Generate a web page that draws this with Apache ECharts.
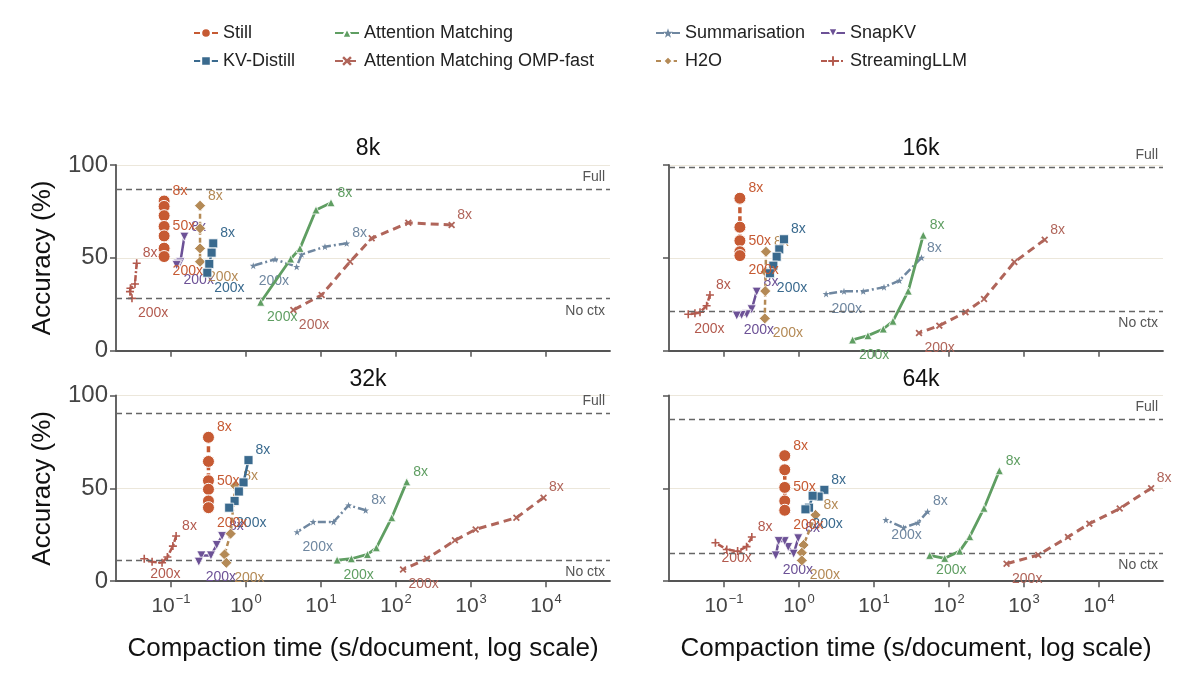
<!DOCTYPE html>
<html>
<head>
<meta charset="utf-8">
<script src="https://cdn.jsdelivr.net/npm/echarts@6/dist/echarts.min.js"></script>
<style>
  html, body { margin: 0; padding: 0; background: #fff; }
  #chart { width: 1200px; height: 674px; }
</style>
</head>
<body>
<div id="chart"></div>
<script>
// panels and reference lines
const panelNames = ['8k', '16k', '32k', '64k']
const fullAcc = [86.9, 98.8, 90.6, 87.4]
const noCtxAcc = [28.0, 21.4, 11.2, 15.3]
const xTickExps = [-1, 0, 1, 2, 3, 4]

// points per panel, ordered 8x -> 200x : [compaction seconds, accuracy %]
const still = [
  [[0.081, 80.6], [0.081, 77.7], [0.081, 72.7], [0.081, 66.9], [0.081, 61.8], [0.081, 55.2], [0.081, 50.7]],
  [[0.163, 82.1], [0.163, 66.5], [0.163, 59.2], [0.163, 53.3], [0.163, 51.2]],
  [[0.316, 77.5], [0.316, 64.5], [0.316, 54.1], [0.316, 49.5], [0.316, 43.2], [0.316, 39.6]],
  [[0.646, 67.6], [0.646, 60.0], [0.646, 50.5], [0.646, 43.2], [0.646, 38.2]]
]
const stillMidIdx = [3, 2, 2, 2] // point carrying the "50x" label

const kvDistill = [
  [[0.366, 57.8], [0.348, 52.8], [0.324, 46.7], [0.305, 42.0]],
  [[0.631, 60.0], [0.546, 54.6], [0.504, 50.6], [0.455, 45.8], [0.41, 41.7]],
  [[1.08, 65.2], [0.927, 53.2], [0.804, 48.3], [0.705, 43.2], [0.597, 39.6]],
  [[2.18, 49.2], [1.83, 45.6], [1.52, 46.0], [1.36, 39.6], [1.22, 38.7]]
]
const attnMatching = [
  [[13.6, 79.7], [8.57, 75.8], [5.25, 55.1], [3.94, 49.4], [1.57, 26.1]],
  [[45.4, 62.2], [28.6, 32.1], [17.9, 15.9], [13.3, 11.7], [8.3, 8.1], [5.18, 5.8]],
  [[139, 53.5], [87.7, 34.2], [54.7, 18.0], [41.6, 14.4], [25.4, 12.1], [16.4, 11.4]],
  [[469, 59.5], [293, 39.3], [189, 24.0], [139, 16.2], [87.7, 12.3], [55.3, 13.9]]
]
const attnOmpFast = [
  [[552, 67.7], [146, 68.9], [47.4, 60.5], [24.4, 47.9], [10.2, 30.0], [4.28, 21.9]],
  [[1888, 59.8], [743, 47.7], [293, 27.9], [166, 20.7], [74.3, 13.5], [39.8, 9.5]],
  [[9268, 45.0], [4027, 34.2], [1153, 27.9], [611, 22.0], [259, 12.1], [124, 6.3]],
  [[49545, 50.1], [18880, 39.1], [7430, 31.0], [3855, 23.8], [1549, 14.1], [585, 9.4]]
]
const summarisation = [
  [[22.0, 57.8], [11.3, 56.0], [5.52, 51.9], [4.74, 45.2], [2.44, 49.2], [1.25, 45.8]],
  [[43.0, 50.1], [21.8, 37.8], [13.6, 34.2], [7.19, 32.0], [3.98, 32.0], [2.3, 30.6]],
  [[39.4, 38.2], [23.3, 40.9], [14.7, 31.9], [7.85, 31.9], [4.8, 26.5]],
  [[51.8, 37.5], [38.5, 31.5], [24.8, 28.8], [14.4, 33.0]]
]
const h2o = [
  [[0.244, 78.1], [0.244, 65.9], [0.244, 55.1], [0.244, 47.9]],
  [[0.363, 53.3], [0.36, 42.5], [0.355, 32.1], [0.35, 17.4]],
  [[0.72, 51.4], [0.624, 25.6], [0.518, 14.4], [0.547, 9.9]],
  [[1.66, 35.7], [1.15, 19.5], [1.09, 15.3], [1.09, 11.2]]
]
const snapKV = [
  [[0.151, 61.4], [0.133, 47.6], [0.124, 46.8], [0.119, 46.1]],
  [[0.273, 31.8], [0.234, 22.3], [0.201, 19.6], [0.172, 19.2], [0.148, 18.9]],
  [[0.48, 24.3], [0.407, 19.5], [0.341, 13.9], [0.254, 13.9], [0.235, 10.5]],
  [[0.977, 23.1], [0.849, 14.8], [0.719, 18.4], [0.646, 21.6], [0.536, 21.6], [0.49, 13.9]]
]
const streamingLLM = [
  [[0.0349, 47.1], [0.0331, 35.9], [0.0288, 33.6], [0.0284, 31.8], [0.0302, 28.2]],
  [[0.065, 30.0], [0.0587, 24.2], [0.0479, 20.7], [0.041, 20.1], [0.0334, 19.6]],
  [[0.117, 24.3], [0.106, 18.9], [0.0895, 13.0], [0.076, 9.9], [0.056, 10.5], [0.044, 12.1]],
  [[0.235, 23.8], [0.2, 18.6], [0.152, 16.2], [0.109, 17.1], [0.0769, 20.7]]
]

const FONT = '"Liberation Sans", Arial, Helvetica, sans-serif'
const xPath = 'path://M1.8,0L5,3.2L8.2,0L10,1.8L6.8,5L10,8.2L8.2,10L5,6.8L1.8,10L0,8.2L3.2,5L0,1.8Z'
const plusPath = 'path://M4,0H6V4H10V6H6V10H4V6H0V4H4Z'
const starPath = 'path://M5,0L6.2,3.6L10,3.6L7,5.9L8.1,9.5L5,7.3L1.9,9.5L3,5.9L0,3.6L3.8,3.6Z'
const downTri = 'path://M0,0L10,0L5,9Z'

const methods = [
  { name: 'StreamingLLM', data: streamingLLM, color: '#B35A4E', symbol: plusPath, size: 8, border: 0, width: 2.5, type: [6, 2, 2, 2] },
  { name: 'Summarisation', data: summarisation, color: '#6F87A0', symbol: starPath, size: 7, border: 0, width: 2.5, type: [8, 3, 2, 3] },
  { name: 'Attention Matching OMP-fast', data: attnOmpFast, color: '#B0655A', symbol: xPath, size: 7, border: 0, width: 3, type: [8, 5] },
  { name: 'Attention Matching', data: attnMatching, color: '#5F9E62', symbol: 'triangle', size: 8, border: 0.8, width: 2.8, type: 'solid' },
  { name: 'SnapKV', data: snapKV, color: '#6C5196', symbol: downTri, size: 9, border: 0.8, width: 2.5, type: 'solid' },
  { name: 'H2O', data: h2o, color: '#B48A56', symbol: 'diamond', size: 11, border: 0.8, width: 2.5, type: [5, 3] },
  { name: 'KV-Distill', data: kvDistill, color: '#3A6A8E', symbol: 'rect', size: 9, border: 0.8, width: 2.5, type: 'solid' },
  { name: 'Still', data: still, color: '#C65A33', symbol: 'circle', size: 12, border: 1, width: 3.5, type: [6, 3] }
]

const grids = [
  { left: 116, top: 165, width: 494, height: 185.7 },
  { left: 669, top: 165, width: 494, height: 185.7 },
  { left: 116, top: 395.5, width: 494, height: 185.7 },
  { left: 669, top: 395.5, width: 494, height: 185.7 }
]
const titleX = [363, 916, 363, 916]
const titleY = [132, 132, 363, 363]

function supLabel(v) {
  const s = v < 0 ? '\u2212' + (-v) : String(v)
  return '{b|10}{s|' + s + '}'
}

const xAxes = grids.map(function (g, p) {
  const bottom = p >= 2
  return {
    type: 'value', gridIndex: p, min: -1.733, max: 4.853,
    axisLine: { show: true, onZero: false, lineStyle: { color: '#555', width: 1.8 } },
    axisTick: { show: true, customValues: xTickExps, length: 6, lineStyle: { color: '#555', width: 1.5 } },
    splitLine: { show: false },
    axisLabel: {
      show: bottom, customValues: xTickExps, margin: 12,
      formatter: supLabel,
      rich: {
        b: { fontSize: 21, color: '#444', fontFamily: FONT },
        s: { fontSize: 13, color: '#444', fontFamily: FONT, padding: [0, 0, 13, 1] }
      }
    },
    name: bottom ? 'Compaction time (s/document, log scale)' : '',
    nameLocation: 'middle', nameGap: 55,
    nameTextStyle: { fontSize: 26, color: '#111', fontFamily: FONT }
  }
})

const yAxes = grids.map(function (g, p) {
  const left = p % 2 === 0
  return {
    type: 'value', gridIndex: p, min: 0, max: 100, interval: 50,
    axisLine: { show: true, onZero: false, lineStyle: { color: '#555', width: 1.8 } },
    axisTick: { show: true, length: 6, lineStyle: { color: '#555', width: 1.5 } },
    splitLine: { show: true, lineStyle: { color: '#ece7db', width: 1 } },
    axisLabel: { show: left, fontSize: 24, color: '#444', fontFamily: FONT, margin: 8 },
    name: left ? 'Accuracy (%)' : '',
    nameLocation: 'middle', nameGap: 60,
    nameTextStyle: { fontSize: 26, color: '#111', fontFamily: FONT }
  }
})

const series = []

// reference lines
panelNames.forEach(function (pn, p) {
  series.push({
    type: 'line', name: 'ref' + p, xAxisIndex: p, yAxisIndex: p, data: [], z: 1,
    markLine: {
      symbol: 'none', silent: true, animation: false,
      lineStyle: { color: '#666', type: [6, 4], width: 1.4 },
      label: { color: '#555', fontSize: 14, fontFamily: FONT },
      data: [
        { yAxis: fullAcc[p], label: { formatter: 'Full', position: 'insideEndTop' } },
        { yAxis: noCtxAcc[p], label: { formatter: 'No ctx', position: 'insideEndBottom' } }
      ]
    }
  })
})

methods.forEach(function (m, mi) {
  panelNames.forEach(function (pn, p) {
    const pts = m.data[p]
    series.push({
      type: 'line', name: m.name, xAxisIndex: p, yAxisIndex: p, z: 2 + mi,
      symbol: m.symbol, symbolSize: m.size, showAllSymbol: true,
      lineStyle: { color: m.color, width: m.width, type: m.type },
      itemStyle: { color: m.color, borderColor: '#fff', borderWidth: m.border },
      label: { color: m.color, fontSize: 14, fontFamily: FONT },
      data: pts.map(function (d, i) {
        const item = { value: [Math.log10(d[0]), d[1]] }
        let txt = null, off = [0, 0]
        if (i === 0) { txt = '8x'; off = [0, -10] }
        else if (i === pts.length - 1) { txt = '200x'; off = [0, 15] }
        else if (m.name === 'Still' && i === stillMidIdx[p]) { txt = '50x'; off = [0, 0] }
        if (txt) item.label = { show: true, formatter: txt, position: 'right', distance: 2, offset: off }
        return item
      })
    })
  })
})

const legendBase = {
  orient: 'vertical', top: 17, itemWidth: 24, itemHeight: 12, itemGap: 6,
  selectedMode: false,
  textStyle: { fontSize: 18, color: '#222', fontFamily: FONT, lineHeight: 22 }
}

const chart = echarts.init(document.getElementById('chart'), null, { renderer: 'canvas' })
chart.setOption({
  animation: false,
  backgroundColor: '#fff',
  title: panelNames.map(function (t, p) {
    return {
      text: t, left: titleX[p], top: titleY[p], textAlign: 'center',
      textStyle: { fontSize: 23, fontWeight: 'normal', color: '#111', fontFamily: FONT }
    }
  }),
  legend: [
    Object.assign({}, legendBase, { left: 188, data: ['Still', 'KV-Distill'] }),
    Object.assign({}, legendBase, { left: 329, data: ['Attention Matching', 'Attention Matching OMP-fast'] }),
    Object.assign({}, legendBase, { left: 650, data: ['Summarisation', 'H2O'] }),
    Object.assign({}, legendBase, { left: 815, data: ['SnapKV', 'StreamingLLM'] })
  ],
  grid: grids,
  xAxis: xAxes,
  yAxis: yAxes,
  series: series
})
</script>
</body>
</html>
